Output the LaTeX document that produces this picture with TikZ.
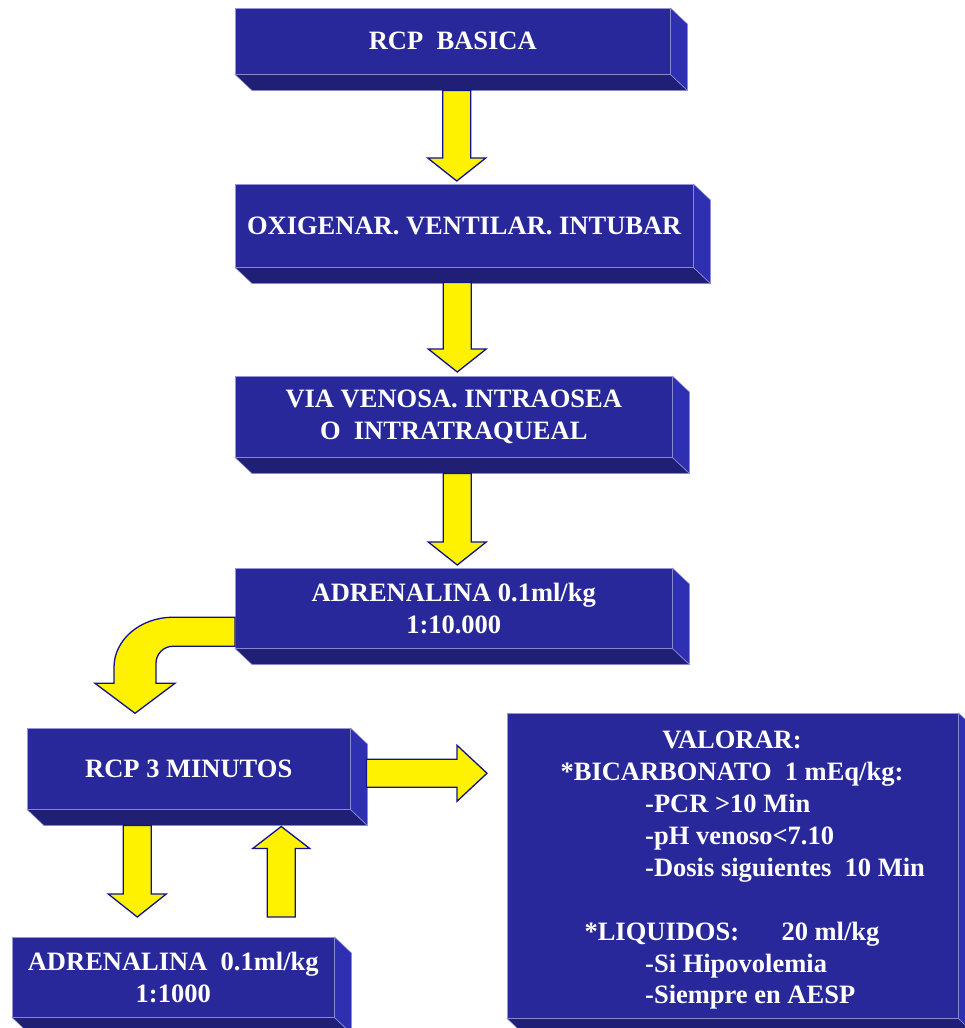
\documentclass[tikz,border=0pt]{standalone}
\usepackage{fontspec}
\setmainfont{Liberation Serif}
\usetikzlibrary{calc}
\definecolor{slabfront}{RGB}{40,40,154}
\definecolor{slabbottom}{RGB}{31,31,118}
\definecolor{slabside}{RGB}{47,47,178}
\definecolor{slabedge}{RGB}{150,150,215}
\definecolor{arrowedge}{RGB}{18,18,140}
\tikzset{slab/.style = {fill=slabfront, draw=slabedge, line width=0.5pt, text=white,
                        anchor=north west, inner sep=0, align=center,
                        font=\bfseries\fontsize{26.5}{32}\selectfont}}
\tikzset{slabtxt/.style = {text=white, inner sep=0, font=\bfseries\fontsize{26.5}{32}\selectfont}}
\tikzset{fatarrow/.style = {fill=yellow, draw=arrowedge, line width=1.3pt, line join=miter}}
\newcommand\fatdown[2]{%
  \draw[fatarrow] let \p1=(#1), \p2=(#2) in
    (\x1-14pt,\y1) -- (\x1+14pt,\y1) -- (\x1+14pt,\y2+23pt) -- (\x1+29pt,\y2+23pt)
    -- (\x1,\y2) -- (\x1-29pt,\y2+23pt) -- (\x1-14pt,\y2+23pt) -- cycle;}
\newcommand\fatup[2]{%
  \draw[fatarrow] let \p1=(#1), \p2=(#2) in
    (\x1-14pt,\y1) -- (\x1+14pt,\y1) -- (\x1+14pt,\y2-22pt) -- (\x1+28.5pt,\y2-22pt)
    -- (\x1,\y2) -- (\x1-28.5pt,\y2-22pt) -- (\x1-14pt,\y2-22pt) -- cycle;}
\newcommand\fatright[2]{%
  \draw[fatarrow] let \p1=(#1), \p2=(#2) in
    (\x1,\y1+14pt) -- (\x2-30pt,\y1+14pt) -- (\x2-30pt,\y1+28pt) -- (\x2,\y1)
    -- (\x2-30pt,\y1-28pt) -- (\x2-30pt,\y1-14pt) -- (\x1,\y1-14pt) -- cycle;}

\begin{document}
\begin{tikzpicture}[x=1pt, y=-1pt]
  \useasboundingbox (0,0) rectangle (964,1028);
  % front faces
  \node[slab, minimum width=435, minimum height=66] (basica) at (235,8) {RCP~~BASICA};
  \node[slab, minimum width=458, minimum height=83] (oxig) at (235,184) {OXIGENAR. VENTILAR. INTUBAR};
  \node[slab, minimum width=437, minimum height=81] (via) at (235,376) {VIA VENOSA. INTRAOSEA\\O~~INTRATRAQUEAL};
  \node[slab, minimum width=437, minimum height=80] (adr) at (235,568) {ADRENALINA 0.1ml/kg\\1:10.000};
  \node[slab, minimum width=323, minimum height=81] (rcp) at (27,728) {RCP 3 MINUTOS};
  \node[slab, minimum width=322, minimum height=80] (adrb) at (12,937) {ADRENALINA~~0.1ml/kg\\1:1000};
  \node[slab, minimum width=451, minimum height=305] (val) at (507,713) {};
  % depth faces
  \foreach \b in {basica,oxig,via,adr,rcp,adrb,val} {
    \filldraw[fill=slabbottom, draw=slabedge, line width=0.5pt]
      (\b.south west) -- ++(17,16) -- ([xshift=17pt,yshift=-16pt]\b.south east) -- (\b.south east) -- cycle;
    \filldraw[fill=slabside, draw=slabedge, line width=0.5pt]
      (\b.north east) -- ++(17,16) -- ([xshift=17pt,yshift=-16pt]\b.south east) -- (\b.south east) -- cycle;
  }
  % text of the big box
  \foreach \ln/\yy/\txt in {a/748/{VALORAR:}, b/780/{*BICARBONATO~~1 mEq/kg:},
                            f/940/{*LIQUIDOS:\hspace{1.6em}20 ml/kg}}
    \node[slabtxt, anchor=base] (val-\ln) at (732,\yy) {\txt};
  \foreach \ln/\yy/\txt in {c/812/{-PCR >10 Min}, d/844/{-pH venoso<7.10},
                            e/876/{-Dosis siguientes~~10 Min}, g/972/{-Si Hipovolemia},
                            h/1003/{-Siempre en AESP}}
    \node[slabtxt, anchor=base west] (val-\ln) at (645,\yy) {\txt};
  % arrows
  \fatdown{[xshift=4pt,yshift=-16pt]basica.south}{[yshift=3pt]oxig.north}
  \fatdown{[xshift=-7pt,yshift=-15pt]oxig.south}{[yshift=4pt]via.north}
  \fatdown{[xshift=3.5pt,yshift=-16pt]via.south}{[yshift=3pt]adr.north}
  \draw[fatarrow] ([yshift=-9pt]adr.west) -- ++(-62,0)
    arc[start angle=90, end angle=180, x radius=59pt, y radius=50pt]
    -- ++(0,16) -- ++(-19,0) -- ++(40,30) -- ++(40,-30) -- ++(-19,0) -- ++(0,-20)
    arc[start angle=180, end angle=90, radius=17pt] -- ++(62,0) -- cycle;
  \fatdown{[xshift=-51.5pt,yshift=-16pt]rcp.south}{[yshift=20pt]adrb.north}
  \fatup{[xshift=108pt,yshift=20pt]adrb.north}{[yshift=-17pt]rcp.south}
  \fatright{[xshift=16pt,yshift=-4.5pt]rcp.east}{[xshift=-20pt]val.west}
\end{tikzpicture}
\end{document}
